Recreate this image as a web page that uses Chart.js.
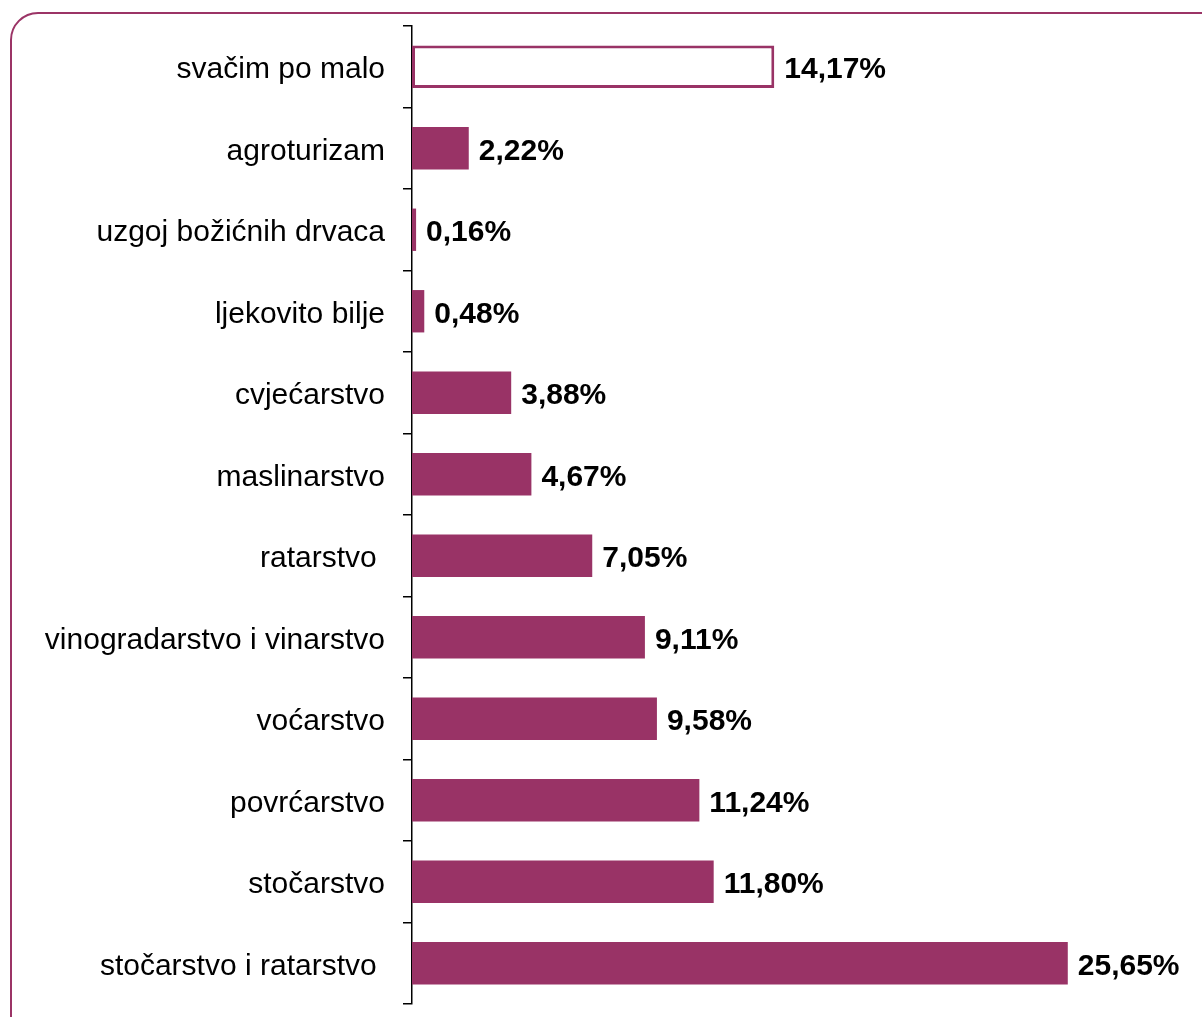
<!DOCTYPE html>
<html>
<head>
<meta charset="utf-8">
<script src="https://cdn.jsdelivr.net/npm/chart.js@4"></script>
<style>
    html, body { margin: 0; padding: 0; background: #fff; overflow: hidden; }
    #wrap { position: relative; width: 1202px; height: 1017px; }
    #frame {
        position: absolute; left: 10px; top: 12px; width: 1230px; height: 1040px;
        border: 2px solid #9b3466; border-radius: 28px; box-sizing: border-box;
    }
    canvas { position: absolute; left: 0; top: 0; }
</style>
</head>
<body>
<div id="wrap">
    <div id="frame"></div>
    <canvas id="chart" width="1202" height="1017"></canvas>
</div>
<script>
// Categories, top to bottom
const categories = [
    'svačim po malo',
    'agroturizam',
    'uzgoj božićnih drvaca',
    'ljekovito bilje',
    'cvjećarstvo',
    'maslinarstvo',
    'ratarstvo ',
    'vinogradarstvo i vinarstvo',
    'voćarstvo',
    'povrćarstvo',
    'stočarstvo',
    'stočarstvo i ratarstvo '
];

// Share in percent
const shares = [14.17, 2.22, 0.16, 0.48, 3.88, 4.67, 7.05, 9.11, 9.58, 11.24, 11.80, 25.65];

const barColor = '#993366';

// Format number with decimal comma
function formatPct(v) {
    return v.toFixed(2).replace('.', ',') + '%';
}

// Draw value labels at bar ends
const valueLabels = {
    id: 'valueLabels',
    afterDatasetsDraw(chart) {
        const ctx = chart.ctx;
        const meta = chart.getDatasetMeta(0);
        ctx.save();
        ctx.font = 'bold 30px "Liberation Sans", Arial, sans-serif';
        ctx.fillStyle = '#000';
        ctx.textAlign = 'left';
        ctx.textBaseline = 'middle';
        meta.data.forEach((bar, i) => {
            ctx.fillText(formatPct(shares[i]), bar.x + 10, bar.y + 3);
        });
        ctx.restore();
    }
};

const ctx = document.getElementById('chart').getContext('2d');
new Chart(ctx, {
    type: 'bar',
    data: {
        labels: categories,
        datasets: [{
            data: shares,
            backgroundColor: shares.map((v, i) => i === 0 ? '#ffffff' : barColor),
            borderColor: barColor,
            borderWidth: shares.map((v, i) => i === 0 ? 3 : 0),
            borderSkipped: false,
            barPercentage: 0.52,
            categoryPercentage: 1.0
        }]
    },
    options: {
        indexAxis: 'y',
        responsive: false,
        animation: false,
        layout: {
            padding: { top: 26, bottom: 13, right: 23, left: 0 }
        },
        plugins: {
            legend: { display: false },
            tooltip: { enabled: false }
        },
        scales: {
            x: {
                display: false,
                min: 0,
                max: 30
            },
            y: {
                afterFit(scale) {
                    scale.width = 412;
                    scale.paddingTop = 0;
                    scale.paddingBottom = 0;
                },
                border: { display: true, color: '#000', width: 1.5 },
                grid: {
                    offset: true,
                    drawOnChartArea: false,
                    drawTicks: true,
                    tickLength: 9,
                    color: '#000',
                    lineWidth: 1.5
                },
                ticks: {
                    color: '#000',
                    padding: 18,
                    labelOffset: 3,
                    font: { family: '"Liberation Sans", Arial, sans-serif', size: 30 }
                }
            }
        }
    },
    plugins: [valueLabels]
});
</script>
</body>
</html>
